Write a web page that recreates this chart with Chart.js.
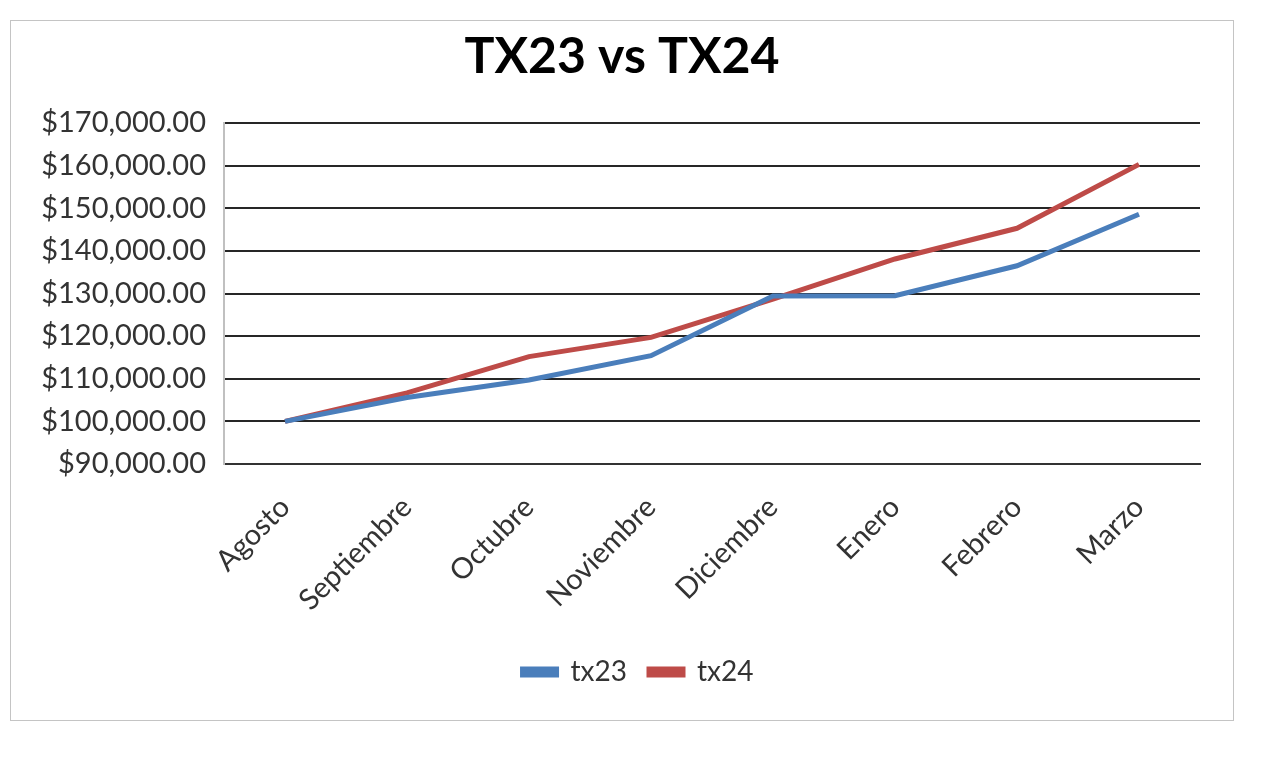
<!DOCTYPE html>
<html>
<head>
<meta charset="utf-8">
<script src="https://cdn.jsdelivr.net/npm/chart.js@4"></script>
<style>
  body { margin: 0; background: #fff; }
  #wrap {
    position: absolute; left: 10px; top: 20px;
    width: 1224px; height: 701px;
    border: 1px solid #c4c4c4; box-sizing: border-box;
  }
</style>
</head>
<body>
<div id="wrap"><canvas id="txChart"></canvas></div>
<script>
const months = ['Agosto', 'Septiembre', 'Octubre', 'Noviembre', 'Diciembre', 'Enero', 'Febrero', 'Marzo'];
const tx23 = [100000, 105600, 109700, 115400, 129400, 129500, 136500, 148600];
const tx24 = [100000, 106700, 115200, 119700, 128700, 138100, 145300, 160300];
const yMin = 90000;
const yMax = 170000;
const yStep = 10000;

const money = v => '$' + v.toLocaleString('en-US', { minimumFractionDigits: 2, maximumFractionDigits: 2 });

// the legend sits a bit right of centre in the original
const nudgeLegend = {
  id: 'nudgeLegend',
  afterLayout(chart) {
    chart.legend.left += 16;
    chart.legend.right += 16;
  }
};

const ctx = document.getElementById('txChart').getContext('2d');
new Chart(ctx, {
  type: 'line',
  data: {
    labels: months,
    datasets: [
      { label: 'tx23', data: tx23, borderColor: '#4a7ebb', backgroundColor: '#4a7ebb', borderWidth: 5, tension: 0 },
      { label: 'tx24', data: tx24, borderColor: '#be4b48', backgroundColor: '#be4b48', borderWidth: 5, tension: 0 }
    ]
  },
  plugins: [nudgeLegend],
  options: {
    responsive: true,
    maintainAspectRatio: false,
    animation: false,
    layout: { padding: { left: 0, right: 0, top: 0, bottom: 24 } },
    elements: { point: { radius: 0 } },
    plugins: {
      title: {
        display: true,
        text: 'TX23 vs TX24',
        color: '#000',
        font: { family: 'Lato', size: 50, weight: 'bold' },
        padding: { top: 6, bottom: 36 }
      },
      legend: {
        position: 'bottom',
        labels: {
          color: '#333',
          font: { family: 'Lato', size: 28 },
          boxWidth: 34,
          boxHeight: 6,
          padding: 22
        }
      },
      tooltip: { enabled: false }
    },
    scales: {
      x: {
        offset: true,
        grid: { display: false },
        border: { color: '#333', width: 2 },
        ticks: {
          color: '#333',
          font: { family: 'Lato', size: 29 },
          minRotation: 45,
          maxRotation: 45,
          padding: 18
        },
        afterFit: s => { s.height = 172; }
      },
      y: {
        min: yMin,
        max: yMax,
        grid: { color: '#262626', lineWidth: 2, drawTicks: false },
        border: { color: '#c0c0c0', width: 2 },
        ticks: {
          stepSize: yStep,
          color: '#333',
          font: { family: 'Lato', size: 29 },
          padding: 18,
          callback: v => money(v)
        },
        afterFit: s => { s.width = 213; }
      },
      // empty axis on the right, only to keep the plot off the frame
      yRight: {
        position: 'right',
        grid: { display: false },
        border: { display: false },
        ticks: { display: false },
        afterFit: s => { s.width = 33; }
      }
    }
  }
});
</script>
</body>
</html>
